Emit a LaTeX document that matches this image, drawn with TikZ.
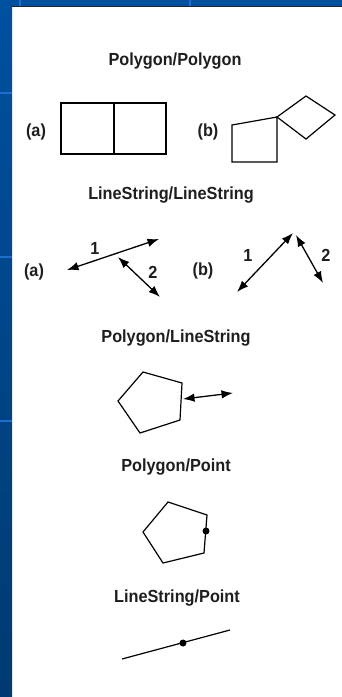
\documentclass[tikz,border=0pt]{standalone}
\usepackage{fontspec}
\setmainfont{Liberation Sans}
\newfontfamily\titlefont{Liberation Sans}[FakeStretch=0.93]
\usetikzlibrary{arrows.meta}
\definecolor{bandtop}{HTML}{0050A0}
\definecolor{bandbot}{HTML}{003A70}
\definecolor{bandline}{HTML}{1A6FD0}
\definecolor{txt}{HTML}{1E1E1E}
\tikzset{
  title/.style={anchor=base, font=\titlefont\fontsize{17.5}{20}\selectfont\bfseries, text=txt, inner sep=0pt},
  tag/.style={anchor=center, font=\titlefont\fontsize{17.5}{20}\selectfont\bfseries, text=txt, inner sep=0pt},
  geom/.style={draw=black, line width=1.2pt, line join=miter},
  dbl/.style={line width=1.3pt, {Latex[length=11.5pt,width=8.5pt]}-{Latex[length=11.5pt,width=8.5pt]}},
  dot/.style={circle, fill=black, inner sep=0pt, minimum size=7pt}
}
\begin{document}
\begin{tikzpicture}[x=1pt,y=-1pt]
\useasboundingbox (0,0) rectangle (342,697);
% frame
\fill[white] (0,0) rectangle (342,697);
\shade[top color=bandtop, bottom color=bandbot] (0,0) rectangle (12,697);
\fill[bandtop] (0,0) rectangle (342,6);
\fill[black!85] (12,6) rectangle (342,7.3);
\fill[bandline] (19,0) rectangle (21,6);
\fill[bandline] (189,0) rectangle (191,6);
\fill[bandline] (0,92) rectangle (12,94);
\fill[bandline] (0,256) rectangle (12,258);
\fill[bandline] (0,420) rectangle (12,422);

% Polygon/Polygon
\node[title] (t1) at (175,65) {Polygon/Polygon};
\node[tag] (a1) at (36,132) {(a)};
\node[tag] (b1) at (208,132) {(b)};
\draw[geom] (61,103) rectangle (166,154);
\draw[geom] (114,103) -- (114,154);
\draw[geom] (232,162) -- (277,162) -- (277,117) -- (232,125) -- cycle;
\draw[geom] (277,117) -- (306,96) -- (335,115) -- (306,139) -- cycle;

% LineString/LineString
\node[title] (t2) at (171,199) {LineString/LineString};
\node[tag] (a2) at (34,272) {(a)};
\node[tag] (b2) at (203,271) {(b)};
\coordinate (l1s) at (67,270);
\coordinate (l1e) at (159,239);
\coordinate (l2s) at (118,257);
\coordinate (l2e) at (160,297);
\draw[dbl] (l1s) -- (l1e);
\draw[dbl] (l2s) -- (l2e);
\node[tag] (n1a) at (95,248) {1};
\node[tag] (n2a) at (153,272) {2};
\coordinate (m1s) at (237,292);
\coordinate (m1e) at (293,233);
\coordinate (m2s) at (296,235);
\coordinate (m2e) at (323,283);
\draw[dbl] (m1s) -- (m1e);
\draw[dbl] (m2s) -- (m2e);
\node[tag] (n1b) at (248,255) {1};
\node[tag] (n2b) at (326,255) {2};

% Polygon/LineString
\node[title] (t3) at (176,342) {Polygon/LineString};
\draw[geom] (143,372) -- (182,383) -- (180,420) -- (140,433) -- (118,401) -- cycle;
\coordinate (p1s) at (183,399);
\coordinate (p1e) at (233,393);
\draw[dbl] (p1s) -- (p1e);

% Polygon/Point
\node[title] (t4) at (176,471) {Polygon/Point};
\draw[geom] (168,502) -- (207,515) -- (204,553) -- (163,563) -- (143,532) -- cycle;
\node[dot] (d1) at (206,531) {};

% LineString/Point
\node[title] (t5) at (177,602) {LineString/Point};
\coordinate (q1s) at (122,659);
\coordinate (q1e) at (230,630);
\draw[line width=1.2pt] (q1s) -- (q1e);
\node[dot] (d2) at (183,643) {};
\end{tikzpicture}
\end{document}
